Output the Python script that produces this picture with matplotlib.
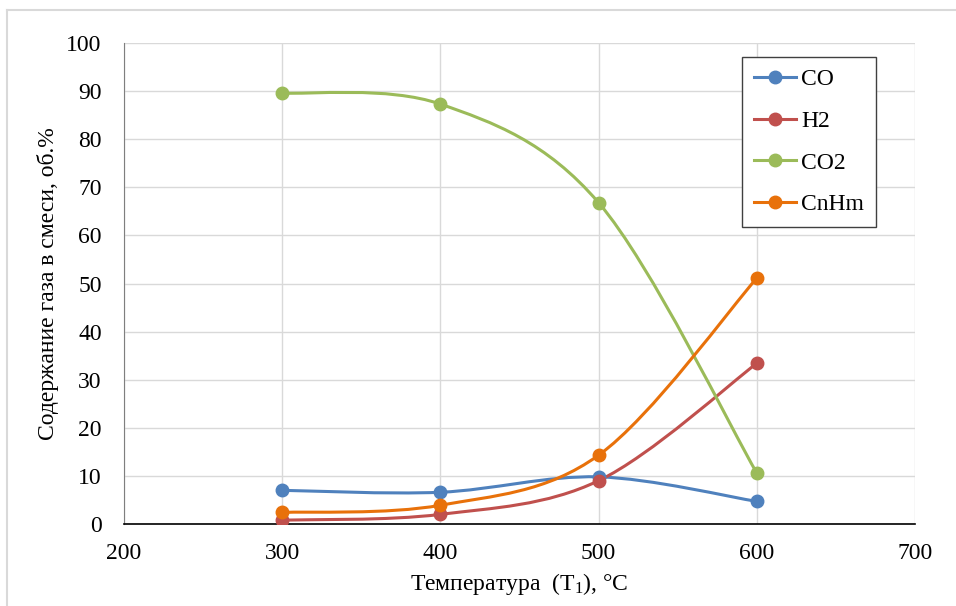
import matplotlib.pyplot as plt
from matplotlib.path import Path
from matplotlib.patches import PathPatch
from matplotlib.lines import Line2D

# Input data
temps = [300, 400, 500, 600]
co = [7.0, 6.6, 9.8, 4.7]
h2 = [0.8, 2.0, 9.0, 33.4]
co2 = [89.6, 87.3, 66.8, 10.6]
cnhm = [2.4, 3.9, 14.3, 51.1]

names = ['CO', 'H2', 'CO2', 'CnHm']
colors = ['#4F81BD', '#C0504D', '#9BBB59', '#E8710A']

plt.rcParams['font.family'] = ['Liberation Serif', 'DejaVu Serif']
plt.rcParams['mathtext.fontset'] = 'custom'
plt.rcParams['mathtext.rm'] = 'Liberation Serif'
plt.rcParams['mathtext.it'] = 'Liberation Serif:italic'


def smooth_path(xs, ys):
    # Catmull-Rom style bezier segments, similar to Excel "smoothed line"
    pts = list(zip(xs, ys))
    n = len(pts)
    verts = [pts[0]]
    codes = [Path.MOVETO]
    for i in range(n - 1):
        p0 = pts[i - 1] if i > 0 else pts[i]
        p1 = pts[i]
        p2 = pts[i + 1]
        p3 = pts[i + 2] if i + 2 < n else pts[i + 1]
        c1 = (p1[0] + (p2[0] - p0[0]) / 6, p1[1] + (p2[1] - p0[1]) / 6)
        c2 = (p2[0] - (p3[0] - p1[0]) / 6, p2[1] - (p3[1] - p1[1]) / 6)
        verts += [c1, c2, p2]
        codes += [Path.CURVE4] * 3
    return Path(verts, codes)


fig = plt.figure(figsize=(9.56, 6.06), dpi=100)
# outer chart border (only left and top edges fall inside the image)
fig.add_artist(Line2D([7 / 956, 7 / 956], [0, 1 - 10 / 606],
                      transform=fig.transFigure, color='#D9D9D9', linewidth=1.5))
fig.add_artist(Line2D([7 / 956, 1], [1 - 10 / 606, 1 - 10 / 606],
                      transform=fig.transFigure, color='#D9D9D9', linewidth=1.5))

ax = fig.add_axes([124 / 956, 1 - 524 / 606, 791 / 956, 481 / 606])

handles = []
for ys, name, c in zip([co, h2, co2, cnhm], names, colors):
    ax.add_patch(PathPatch(smooth_path(temps, ys), fill=False,
                           edgecolor=c, linewidth=2.2, zorder=3))
    ax.plot(temps, ys, linestyle='none', marker='o', markersize=9,
            color=c, zorder=4)
    handles.append(Line2D([], [], color=c, linewidth=2.2, marker='o',
                          markersize=9))

ax.set_xlim(200, 700)
ax.set_ylim(0, 100)
ax.set_xticks(range(200, 701, 100))
ax.set_yticks(range(0, 101, 10))
ax.grid(True, color='#D9D9D9', linewidth=1.0)
ax.set_axisbelow(True)
ax.tick_params(length=0, labelsize=17)
ax.tick_params(axis='y', pad=16)
ax.tick_params(axis='x', pad=14)
for s in ['top', 'right']:
    ax.spines[s].set_visible(False)
ax.spines['left'].set_color('#7F7F7F')
ax.spines['bottom'].set_color('black')
ax.spines['bottom'].set_linewidth(1.2)

ax.set_xlabel('Температура  (T$_1$), °C', fontsize=17, labelpad=5)
ax.set_ylabel('Содержание газа в смеси, об.%', fontsize=17, labelpad=5)

leg = ax.legend(handles, names, loc='upper left',
                bbox_to_anchor=((742 - 124) / 791, (524 - 57) / 481),
                fontsize=17, frameon=True, fancybox=False, framealpha=1,
                edgecolor='#404040', borderpad=0.5, labelspacing=0.85,
                handlelength=1.8, handletextpad=0.2, borderaxespad=0)
leg.get_frame().set_linewidth(1.0)

plt.savefig('out.png', dpi=100)
